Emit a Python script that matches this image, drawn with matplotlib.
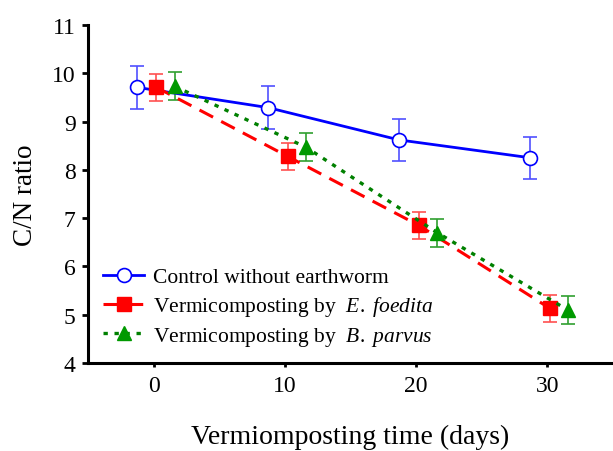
import numpy as np
import matplotlib
matplotlib.use("Agg")
import matplotlib.pyplot as plt

# data
days = [0, 10, 20, 30]
control = [9.71, 9.29, 8.62, 8.25]
control_err = [0.44, 0.44, 0.44, 0.44]
efoedita = [9.71, 8.28, 6.85, 5.13]
efoedita_err = [0.28, 0.28, 0.28, 0.28]
bparvus = [9.73, 8.47, 6.70, 5.09]
bparvus_err = [0.29, 0.29, 0.29, 0.29]

plt.rcParams["font.family"] = ["Liberation Serif", "DejaVu Serif"]
plt.rcParams["mathtext.fontset"] = "custom"
plt.rcParams["mathtext.rm"] = "Liberation Serif"
plt.rcParams["mathtext.it"] = "Liberation Serif:italic"

fig = plt.figure(figsize=(6.13, 4.52), dpi=100)
ax = fig.add_axes([0.1436, 0.1947, 0.8564, 0.7478])

d = np.array(days, dtype=float)

ax.errorbar(d - 1.3, control, yerr=control_err, fmt="none", ecolor="#5050ff",
            elinewidth=1.2, capsize=5, capthick=1.2, zorder=2)
ax.plot(d - 1.3, control, color="#0000ff", lw=2.0, marker="o", ms=10,
        mfc="white", mec="#0000ff", mew=1.2, zorder=3,
        label="Control without earthworm")

ax.errorbar(d + 0.2, efoedita, yerr=efoedita_err, fmt="none", ecolor="#ff5050",
            elinewidth=1.2, capsize=5, capthick=1.2, zorder=2)
ax.plot(d + 0.2, efoedita, color="#ff0000", lw=2.2, ls=(0, (5, 3)), marker="s",
        ms=10, mfc="#ff0000", mec="#ff0000", zorder=3,
        label=r"Vermicomposting by  $\mathit{E.\ foedita}$")

ax.errorbar(d + 1.6, bparvus, yerr=bparvus_err, fmt="none", ecolor="#30a030",
            elinewidth=1.2, capsize=5, capthick=1.2, zorder=2)
ax.plot(d + 1.6, bparvus, color="#008000", lw=2.4, ls=(0, (1.3, 2.0)), marker="^",
        ms=10, mfc="#009900", mec="#009900", zorder=4,
        label=r"Vermicomposting by  $\mathit{B.\ parvus}$")

ax.set_xlim(-5, 35)
ax.set_ylim(4, 11)
ax.set_xticks(days)
ax.set_yticks(range(4, 12))
ax.spines["top"].set_visible(False)
ax.spines["right"].set_visible(False)
ax.spines["left"].set_linewidth(2.2)
ax.spines["bottom"].set_linewidth(2.2)
ax.tick_params(axis="y", direction="out", length=4, width=2, labelsize=17, pad=5)
ax.tick_params(axis="x", direction="out", length=3, width=2, labelsize=17, pad=6)

ax.set_xlabel("Vermiomposting time (days)", fontsize=20, labelpad=20)
ax.set_ylabel("C/N ratio", fontsize=19.5, labelpad=10)

ax.legend(loc="lower left", bbox_to_anchor=(0.0, 0.0), frameon=False,
          fontsize=15.5, handlelength=1.9, handletextpad=0.4, labelspacing=0.32,
          borderaxespad=0.3)

fig.savefig("out.png", dpi=100)
